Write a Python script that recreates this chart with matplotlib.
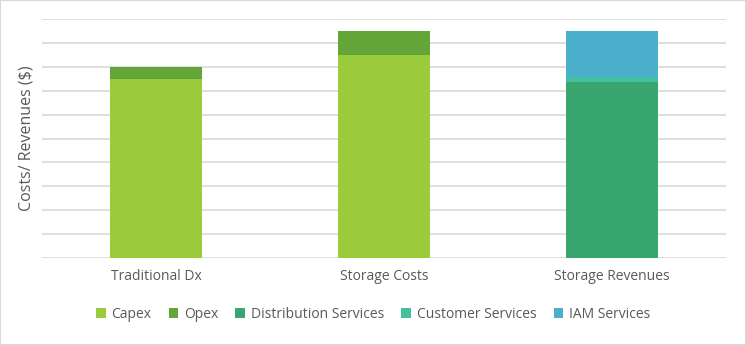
import matplotlib.pyplot as plt
from matplotlib.patches import Rectangle

categories = ["Traditional Dx", "Storage Costs", "Storage Revenues"]
series = ["Capex", "Opex", "Distribution Services", "Customer Services", "IAM Services"]
capex = [7.5, 8.5, 0]
opex = [0.5, 1.0, 0]
distribution = [0, 0, 7.38]
customer = [0, 0, 0.21]
iam = [0, 0, 1.91]
colors = ["#9BCB3C", "#63A538", "#38A66E", "#42C0A0", "#4BAFCC"]

plt.rcParams['font.family'] = ['Open Sans', 'DejaVu Sans']
text_color = "#595959"

fig = plt.figure(figsize=(7.46, 3.45), dpi=100)
ax = fig.add_axes([42 / 746, 1 - 258 / 345, 684 / 746, 239 / 345])

x = list(range(len(categories)))
bottom = [0, 0, 0]
for name, vals, c in zip(series, [capex, opex, distribution, customer, iam], colors):
    ax.bar(x, vals, width=0.4, bottom=bottom, color=c, label=name, zorder=3)
    bottom = [b + v for b, v in zip(bottom, vals)]

ax.set_xlim(-0.5, 2.5)
ax.set_ylim(0, 10)
ax.set_yticks(range(0, 11))
ax.set_yticklabels([])
ax.tick_params(axis='y', length=0)
ax.tick_params(axis='x', length=0, labelsize=10, colors=text_color, pad=8)
ax.set_xticks(x)
ax.set_xticklabels(categories)
ax.grid(axis='y', color="#D9D9D9", linewidth=1.2, zorder=0)
for s in ax.spines.values():
    s.set_visible(False)
ax.set_ylabel("Costs/ Revenues ($)", fontsize=11.5, color=text_color, labelpad=2)

handles, labels = ax.get_legend_handles_labels()
leg = fig.legend(handles, labels, loc='center', bbox_to_anchor=(0.5, 1 - 314 / 345), ncol=5,
                 frameon=False, fontsize=10, handlelength=0.7, handleheight=0.7,
                 handletextpad=0.4, columnspacing=1.25)
for t in leg.get_texts():
    t.set_color(text_color)

fig.patches.append(Rectangle((0, 0), 1, 1, transform=fig.transFigure, fill=False,
                             edgecolor="#D9D9D9", linewidth=1.5))

plt.savefig("out.png", dpi=100)
plt.close()
